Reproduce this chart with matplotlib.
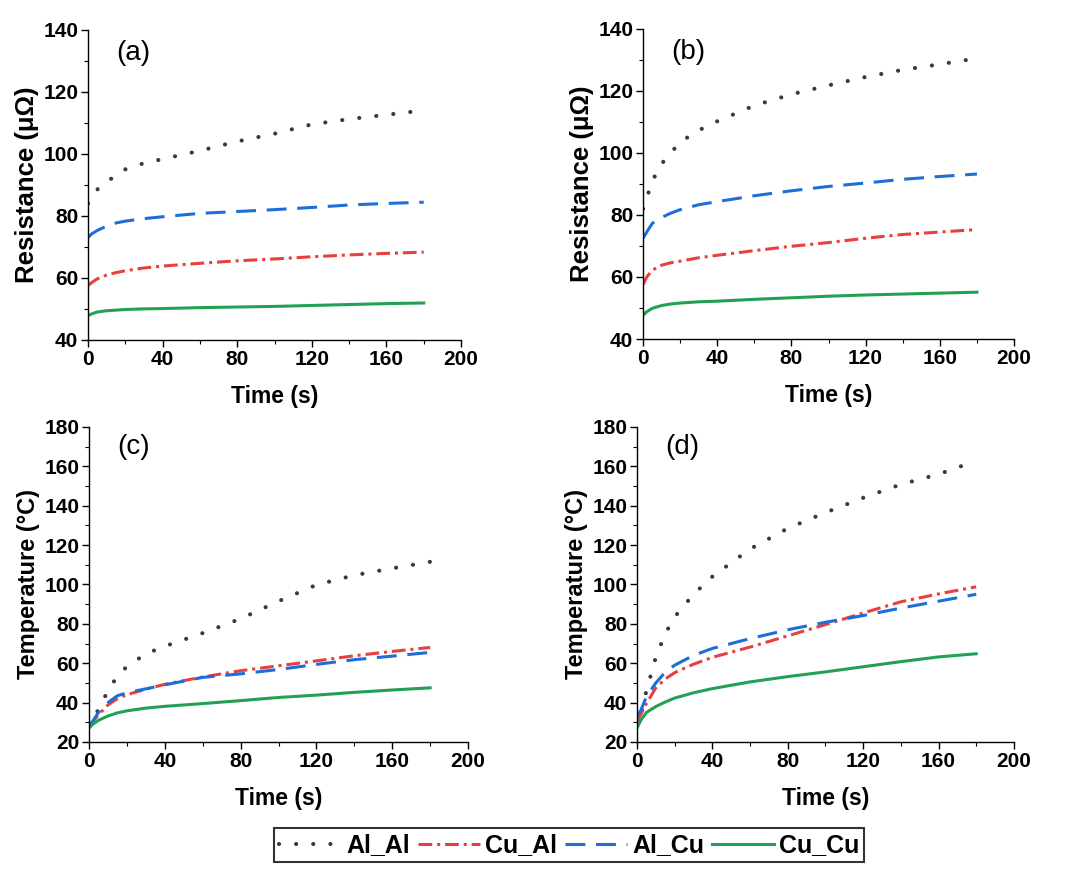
import numpy as np
import matplotlib
matplotlib.use("Agg")
import matplotlib.pyplot as plt

plt.rcParams['font.family'] = ['Liberation Sans', 'DejaVu Sans']
plt.rcParams['font.weight'] = 'bold'

# time grid (s)
t = [0, 2, 5, 10, 15, 20, 30, 40, 60, 80, 100, 120, 140, 160, 180]
names = ["Al_Al", "Cu_Al", "Al_Cu", "Cu_Cu"]

# (a) resistance, micro-ohm
res_a_alal = [84, 86, 88.5, 91, 93, 95, 97, 98.3, 101, 104, 106.5, 109.5, 111.2, 112.6, 114]
res_a_cual = [57.5, 58.5, 59.7, 60.9, 61.7, 62.3, 63.2, 63.8, 64.7, 65.5, 66.1, 66.8, 67.4, 67.9, 68.3]
res_a_alcu = [73, 74.2, 75.3, 76.7, 77.7, 78.3, 79.1, 79.7, 80.8, 81.4, 82.0, 82.7, 83.5, 84.0, 84.4]
res_a_cucu = [47.8, 48.4, 49.0, 49.4, 49.6, 49.8, 50.0, 50.1, 50.4, 50.6, 50.8, 51.1, 51.4, 51.7, 51.9]

# (b) resistance, micro-ohm
res_b_alal = [82, 85.5, 91, 96.5, 100, 103.5, 107.3, 110.2, 115.3, 118.9, 121.8, 124.5, 126.8, 128.6, 130.5]
res_b_cual = [57.5, 60.0, 62.2, 63.8, 64.6, 65.1, 66.2, 67.0, 68.5, 69.9, 71.1, 72.5, 73.7, 74.5, 75.3]
res_b_alcu = [72.5, 74.5, 77.3, 79.2, 80.6, 81.7, 83.3, 84.3, 86.2, 87.8, 89.2, 90.3, 91.5, 92.4, 93.2]
res_b_cucu = [47.6, 48.8, 49.9, 50.8, 51.3, 51.6, 52.0, 52.2, 52.8, 53.3, 53.8, 54.2, 54.5, 54.8, 55.1]

# (c) temperature, deg C
tmp_c_alal = [28, 31, 36.5, 46, 53.5, 58.3, 64.8, 68.6, 75.3, 82.6, 91.5, 99.8, 104.7, 108.2, 111.5]
tmp_c_cual = [28, 30.5, 33.8, 38.8, 42, 44, 46.8, 49.3, 53, 56.2, 58.7, 61.2, 63.8, 66, 68]
tmp_c_alcu = [27.5, 30.5, 35, 40, 43.5, 45, 47, 49, 52.8, 54.6, 56.8, 59.4, 61.8, 63.6, 65.5]
tmp_c_cucu = [27, 29, 31, 33.2, 34.8, 35.8, 37.2, 38.1, 39.5, 41, 42.6, 43.8, 45.2, 46.4, 47.5]

# (d) temperature, deg C
tmp_d_alal = [28, 34, 46, 63, 75, 83.5, 95, 104, 118, 128.5, 136.5, 144, 150.8, 156, 162.8]
tmp_d_cual = [30, 34, 39.5, 47.5, 52, 55.2, 59.5, 63, 68.2, 73.9, 79.6, 85.5, 91.2, 95.2, 98.8]
tmp_d_alcu = [33, 36, 43, 50, 55.5, 59, 64, 67.5, 72.5, 77, 80.8, 84.2, 88, 91.5, 95]
tmp_d_cucu = [27, 31, 35, 38, 40.3, 42.3, 45, 47.1, 50.5, 53.2, 55.6, 58.2, 60.8, 63.2, 64.8]

styles = [
    dict(color="#3a3a3a", lw=3.0, linestyle=(0, (0.01, 4.1)), dash_capstyle="round"),
    dict(color="#e8403f", lw=2.2, linestyle=(0, (4.5, 1.6, 1.0, 1.6))),
    dict(color="#1c6fd8", lw=2.2, linestyle=(0, (6.5, 3.5))),
    dict(color="#24a055", lw=2.2, linestyle="-"),
]

panels = [
    ("(a)", [0.0815, 0.612, 0.3454, 0.354], [res_a_alal, res_a_cual, res_a_alcu, res_a_cucu],
     (40, 140), "Resistance (\u03bc\u03a9)", 18.5, 132.5),
    ("(b)", [0.5954, 0.613, 0.3435, 0.354], [res_b_alal, res_b_cual, res_b_alcu, res_b_cucu],
     (40, 140), "Resistance (\u03bc\u03a9)", 18.5, 132.5),
    ("(c)", [0.0824, 0.153, 0.351, 0.3596], [tmp_c_alal, tmp_c_cual, tmp_c_alcu, tmp_c_cucu],
     (20, 180), "Temperature (\u00b0C)", 17, 170),
    ("(d)", [0.5898, 0.153, 0.349, 0.3596], [tmp_d_alal, tmp_d_cual, tmp_d_alcu, tmp_d_cucu],
     (20, 180), "Temperature (\u00b0C)", 17, 170),
]

fig = plt.figure(figsize=(10.8, 8.76), dpi=100)

handles = []
for tag, pos, series, ylim, ylabel, ysize, ytag in panels:
    ax = fig.add_axes(pos)
    lines = []
    for name, ys, st in zip(names, series, styles):
        ln, = ax.plot(t, ys, label=name, **st)
        lines.append(ln)
    if not handles:
        handles = lines
    ax.set_xlim(0, 200)
    ax.set_ylim(*ylim)
    ax.set_xticks(np.arange(0, 201, 40))
    ax.set_xticks(np.arange(0, 201, 20), minor=True)
    ax.set_yticks(np.arange(ylim[0], ylim[1] + 1, 20))
    ax.set_yticks(np.arange(ylim[0], ylim[1] + 1, 10), minor=True)
    for s in ["top", "right"]:
        ax.spines[s].set_visible(False)
    for s in ["left", "bottom"]:
        ax.spines[s].set_linewidth(1.0)
    ax.tick_params(which="major", direction="out", length=5, width=1, labelsize=15, pad=2)
    ax.tick_params(which="minor", direction="out", length=3, width=0.8)
    ax.set_xlabel("Time (s)", fontsize=16.5, fontweight="bold", labelpad=12)
    ax.set_ylabel(ylabel, fontsize=ysize, fontweight="bold", labelpad=3)
    ax.text(15, ytag, tag, fontsize=20, fontweight="normal", va="center", ha="left")

leg = fig.legend(handles=handles, labels=names, loc="center", bbox_to_anchor=(0.527, 0.035),
                 ncol=4, fontsize=18, handlelength=2.5, handletextpad=0.2,
                 columnspacing=0.3, frameon=True, fancybox=False, borderpad=0.2,
                 borderaxespad=0)
leg.get_frame().set_edgecolor("black")
leg.get_frame().set_linewidth(1.5)
for txt in leg.get_texts():
    txt.set_fontweight("bold")

fig.savefig("out.png", dpi=100)
